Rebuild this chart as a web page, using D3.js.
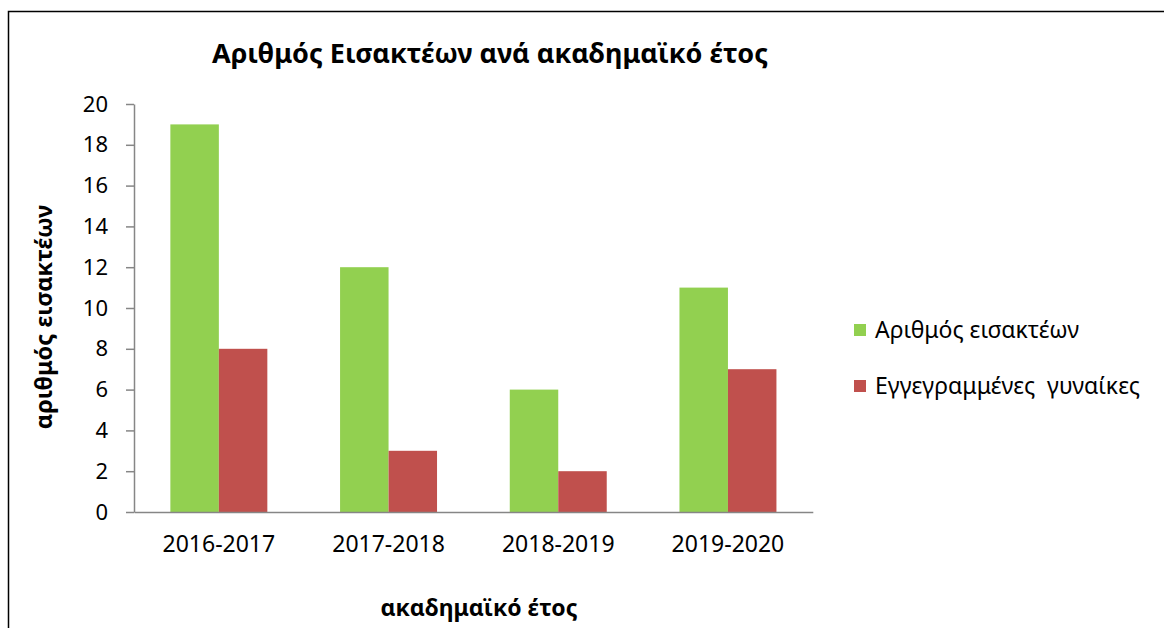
<!DOCTYPE html>
<html><head><meta charset="utf-8">
<script src="https://cdn.jsdelivr.net/npm/d3@7"></script>
<style>body{margin:0;background:#fff}svg{display:block}text{font-family:"Noto Sans",sans-serif;fill:#000}</style>
</head><body>
<svg id="c" width="1164" height="628"></svg>
<script>
const categories = ["2016-2017","2017-2018","2018-2019","2019-2020"];
const seriesNames = ["Αριθμός εισακτέων","Εγγεγραμμένες  γυναίκες"];
const admitted = [19,12,6,11];
const women = [8,3,2,7];
const yTicks = [0,2,4,6,8,10,12,14,16,18,20];
const colors = ["#92D050","#C0504D"];
const title = "Αριθμός Εισακτέων ανά ακαδημαϊκό έτος";
const yTitle = "αριθμός εισακτέων";
const xTitle = "ακαδημαϊκό έτος";

const svg = d3.select("#c");
svg.append("rect").attr("x",8.5).attr("y",11.5).attr("width",1200).attr("height",700)
  .attr("fill","none").attr("stroke","#000").attr("stroke-width",1.5);

const x0 = 134, x1 = 812.8, yTop = 104, yBot = 512;
const x = d3.scaleBand().domain(categories).range([x0,x1]).paddingInner(0.75/1.75).paddingOuter(0.75/1.75/2);
const xs = d3.scaleBand().domain([0,1]).range([0,x.bandwidth()]);
const y = d3.scaleLinear().domain([0,20]).range([yBot,yTop]);

const data = categories.map((c,i)=>({c, v:[admitted[i],women[i]]}));
const g = svg.append("g");
data.forEach(d=>{
  d.v.forEach((v,j)=>{
    g.append("rect").attr("x",x(d.c)+xs(j)).attr("y",y(v)).attr("width",xs.bandwidth()).attr("height",y(0)-y(v)).attr("fill",colors[j]);
  });
});

const ya = svg.append("g").attr("transform",`translate(${x0},0)`)
  .call(d3.axisLeft(y).tickValues(yTicks).tickSize(8).tickSizeOuter(0).tickPadding(18));
ya.select(".domain").attr("stroke","#868686").attr("stroke-width",1.5);
ya.selectAll(".tick line").attr("stroke","#868686").attr("stroke-width",1.5);
ya.selectAll("text").style("font-size","22px").attr("fill","#000");

const xa = svg.append("g").attr("transform",`translate(0,${yBot})`)
  .call(d3.axisBottom(x).tickSize(0).tickSizeOuter(0).tickPadding(24));
xa.select(".domain").attr("stroke","#868686").attr("stroke-width",1.5);
xa.selectAll("text").style("font-size","23px").attr("fill","#000");

svg.append("text").attr("x",490).attr("y",63).attr("text-anchor","middle")
  .style("font-size","27px").style("font-weight","bold").text(title);
svg.append("text").attr("transform","translate(52,317) rotate(-90)").attr("text-anchor","middle")
  .style("font-size","23.5px").style("font-weight","bold").text(yTitle);
svg.append("text").attr("x",479).attr("y",616).attr("text-anchor","middle")
  .style("font-size","23px").style("font-weight","bold").text(xTitle);

const lg = svg.append("g");
seriesNames.forEach((n,i)=>{
  const yy = 330 + i*56;
  lg.append("rect").attr("x",854).attr("y",yy-6).attr("width",12).attr("height",12).attr("fill",colors[i]);
  lg.append("text").attr("x",875).attr("y",yy+8).style("font-size","23px").attr("xml:space","preserve").text(n);
});
</script>
</body></html>
